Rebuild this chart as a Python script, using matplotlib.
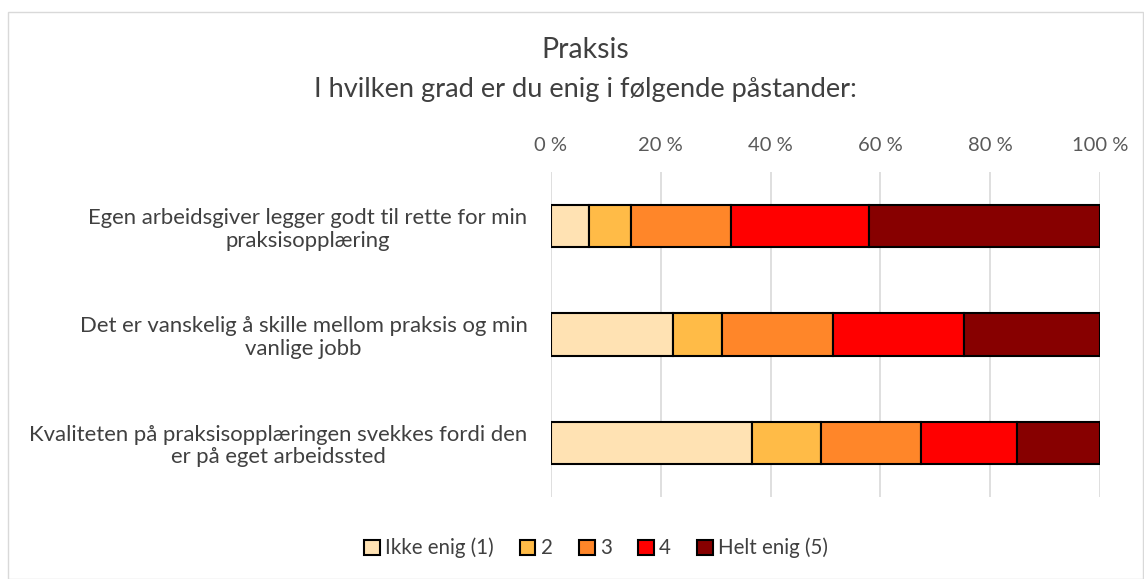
import matplotlib.pyplot as plt
import numpy as np

plt.rcParams['font.family'] = ['Lato', 'DejaVu Sans']

# Data (percent of respondents)
categories = [
    "Egen arbeidsgiver legger godt til rette for min\npraksisopplæring",
    "Det er vanskelig å skille mellom praksis og min\nvanlige jobb",
    "Kvaliteten på praksisopplæringen svekkes fordi den\ner på eget arbeidssted",
]
series_names = ["Ikke enig (1)", "2", "3", "4", "Helt enig (5)"]
ikke_enig = [7.0, 22.3, 36.6]
s2 = [7.5, 8.9, 12.5]
s3 = [18.2, 20.1, 18.3]
s4 = [25.3, 24.0, 17.5]
helt_enig = [42.0, 24.7, 15.1]
colors = ["#ffe2b3", "#ffbb47", "#ff8629", "#ff0000", "#870000"]

values = [ikke_enig, s2, s3, s4, helt_enig]

fig = plt.figure(figsize=(11.44, 5.79), dpi=100)
ax = fig.add_axes([551/1144, 1 - 497/579, 549/1144, 325/579])

y = np.arange(len(categories))
left = np.zeros(len(categories))
for name, vals, c in zip(series_names, values, colors):
    ax.barh(y, vals, left=left, height=0.39, color=c, edgecolor='black',
            linewidth=1.5, label=name, zorder=3)
    left += np.array(vals)

ax.set_xlim(0, 100)
ax.set_ylim(len(categories) - 0.5, -0.5)
ax.set_yticks(y)
ax.set_yticklabels(categories, fontsize=15.9, color='#404040', ha='right',
                   multialignment='center', linespacing=1.15)
ax.set_xticks(np.arange(0, 101, 20))
ax.set_xticklabels([f"{v} %" for v in range(0, 101, 20)], fontsize=14.5, color='#595959')
ax.xaxis.tick_top()
ax.tick_params(axis='x', length=0, pad=13)
ax.tick_params(axis='y', length=0, pad=17)
ax.grid(axis='x', color='#d9d9d9', linewidth=1.2, zorder=0)
for s in ax.spines.values():
    s.set_visible(False)

cx = 585 / 1144
fig.text(cx, 1 - 50/579, "Praksis", ha='center', va='center', fontsize=20.5, color='#404040')
fig.text(cx, 1 - 90/579, "I hvilken grad er du enig i følgende påstander:", ha='center',
         va='center', fontsize=19.6, color='#404040')

leg = fig.legend(loc='center', bbox_to_anchor=(596/1144, 1 - 548/579), ncol=5, frameon=False,
                 fontsize=14.8, handlelength=0.75, handleheight=0.75, handletextpad=0.25,
                 columnspacing=1.3)
for t in leg.get_texts():
    t.set_color('#404040')

# thin chart border
fig.add_artist(plt.Rectangle((8/1144, 0), 1 - 8/1144 - 0.001, 1 - 12/579, transform=fig.transFigure,
                             fill=False, edgecolor='#d9d9d9', linewidth=1))

fig.savefig("out.png", dpi=100, facecolor='white')
